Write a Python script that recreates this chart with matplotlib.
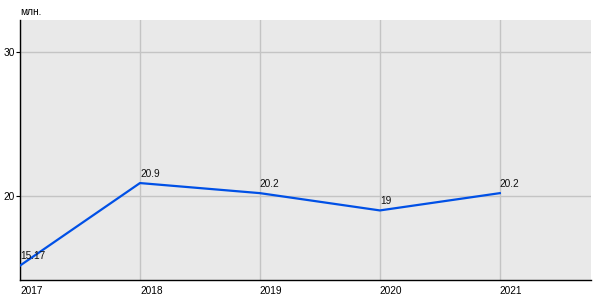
import matplotlib
matplotlib.use("Agg")
import matplotlib.pyplot as plt

plt.rcParams["font.family"] = ["Liberation Sans", "DejaVu Sans"]

years = [2017, 2018, 2019, 2020, 2021]
values = [15.17, 20.9, 20.2, 19.0, 20.2]
value_labels = ["15.17", "20.9", "20.2", "19", "20.2"]
y_ticks = [20, 30]

fig = plt.figure(figsize=(6, 3), dpi=100)
ax = fig.add_axes([20 / 600, 20 / 300, 571 / 600, 260 / 300])
ax.set_facecolor("#e9e9e9")

ax.plot(years, values, color="#0050e6", linewidth=1.6, zorder=3)
for x, y, lab in zip(years, values, value_labels):
    ax.annotate(lab, (x, y), xytext=(0, 3), textcoords="offset points",
                ha="left", va="bottom", fontsize=7.3, color="#111111", zorder=4)

ax.set_xlim(2017, 2021.76)
ax.set_ylim(14.17, 32.22)
ax.set_xticks(years)
ax.set_xticklabels([str(y) for y in years], ha="left", fontsize=7.3)
ax.set_yticks(y_ticks)
ax.set_yticklabels([str(t) for t in y_ticks], fontsize=7.3)
ax.tick_params(axis="x", length=0, pad=4)
ax.tick_params(axis="y", length=3, pad=1)
ax.grid(True, color="#c4c4c4", linewidth=1)
ax.set_axisbelow(True)
for s in ["top", "right"]:
    ax.spines[s].set_visible(False)
ax.spines["left"].set_linewidth(1)
ax.spines["bottom"].set_linewidth(1)

fig.text(20 / 600, 1 - 12 / 300, "млн.", fontsize=7.3, ha="left", va="center")

fig.savefig("out.png", dpi=100)
